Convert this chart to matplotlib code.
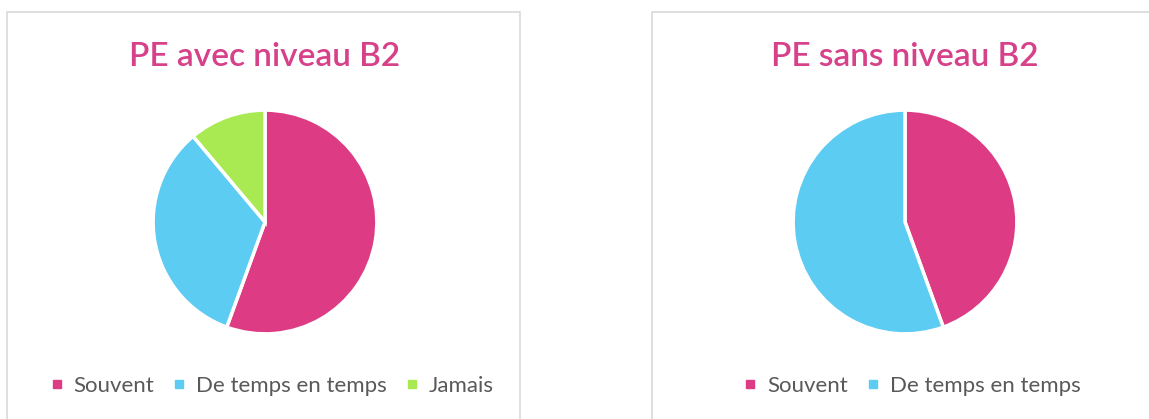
import matplotlib.pyplot as plt
from matplotlib.patches import Rectangle
from matplotlib.lines import Line2D

# Donnees
titres = ['PE avec niveau B2', 'PE sans niveau B2']
categories = ['Souvent', 'De temps en temps', 'Jamais']
avec_b2 = [5, 3, 1]
sans_b2 = [4, 5]
couleurs = ['#DD3B84', '#5DCCF2', '#A9EA52']

plt.rcParams['font.family'] = ['Lato', 'DejaVu Sans']

W, H = 1149, 419
fig = plt.figure(figsize=(W / 100, H / 100), dpi=100)
fig.patch.set_facecolor('white')

def px_axes(cx, cy, r):
    return fig.add_axes([(cx - r) / W, (H - cy - r) / H, 2 * r / W, 2 * r / H])

# Cadres des graphiques
for x0, x1 in [(7, 520), (652, 1160)]:
    fig.add_artist(Rectangle((x0 / W, -0.05), (x1 - x0) / W, (H - 12) / H + 0.05,
                             transform=fig.transFigure, fill=False,
                             edgecolor='#D9D9D9', linewidth=1.2))

centres = [265, 905]
series = [avec_b2, sans_b2]
for cx, titre, vals in zip(centres, titres, series):
    ax = px_axes(cx, 222, 113)
    n = len(vals)
    ax.pie(vals, colors=couleurs[:n], startangle=90, counterclock=False,
           wedgeprops=dict(edgecolor='white', linewidth=2.5))
    ax.set_xlim(-1.01, 1.01)
    ax.set_ylim(-1.01, 1.01)
    ax.set_aspect('equal')
    fig.text(cx / W, 1 - 57 / H, titre, ha='center', va='center',
             fontsize=24, fontweight='semibold', color='#D6418A')
    handles = [Line2D([], [], marker='s', linestyle='', markersize=6,
                      markerfacecolor=c, markeredgecolor=c) for c in couleurs[:n]]
    fig.legend(handles, categories[:n], loc='center',
               bbox_to_anchor=((cx + 7) / W, 1 - 386 / H), ncol=n, frameon=False,
               fontsize=16, labelcolor='#595959', handlelength=0.6,
               handletextpad=0.45, columnspacing=0.85)

fig.savefig('out.png', dpi=100, facecolor='white')
